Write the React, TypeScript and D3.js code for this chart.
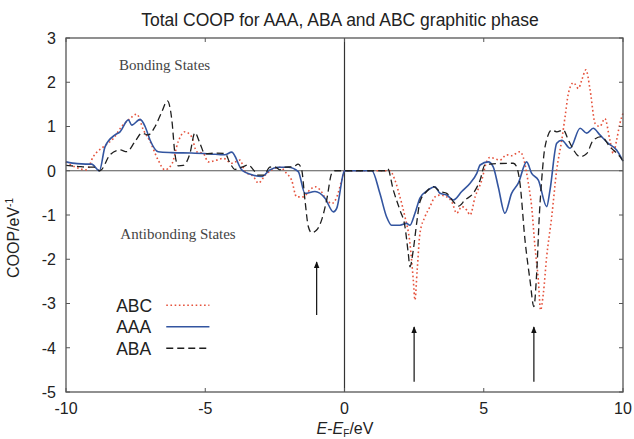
import React from 'react';
import * as d3 from 'd3';

// ABC (red dotted), AAA (blue solid), ABA (black dashed) -- [E - EF, COOP]
const abcData: [number, number][] = [
  [-10, 0.2], [-9.62, 0.07], [-9.26, 0.02], [-9.02, 0.32], [-8.66, 0.54], [-8.3, 0.73], [-8.0, 1.0],
  [-7.7, 1.18], [-7.46, 1.28], [-7.22, 0.92], [-6.98, 0.66], [-6.69, 0.24], [-6.45, 0.02], [-6.2, 0.15],
  [-5.97, 0.66], [-5.73, 0.88], [-5.49, 0.77], [-5.31, 0.43], [-5.07, 0.39], [-4.89, 0.2], [-4.59, 0.24],
  [-4.35, 0.28], [-4.05, 0.17], [-3.75, 0.24], [-3.57, -0.02], [-3.27, -0.13], [-3.09, -0.28], [-2.85, -0.1],
  [-2.61, 0.02], [-2.32, 0.08], [-2.08, -0.06], [-1.9, -0.21], [-1.72, -0.59], [-1.48, -0.59], [-1.24, -0.43],
  [-1.06, -0.36], [-0.88, -0.43], [-0.64, -0.66], [-0.46, -0.74], [-0.28, -0.6], [-0.1, -0.21], [0, 0],
  [1.63, 0], [1.81, -0.21], [1.99, -0.59], [2.17, -1.04], [2.35, -1.64], [2.47, -2.47], [2.53, -2.92],
  [2.61, -2.24], [2.71, -1.41], [2.89, -1.04], [3.07, -0.81], [3.25, -0.59], [3.43, -0.55], [3.67, -0.59],
  [3.85, -0.7], [4.03, -0.96], [4.21, -0.81], [4.39, -0.89], [4.51, -1.0], [4.69, -0.59], [4.93, -0.21],
  [5.1, 0.2], [5.22, 0.3], [5.58, 0.24], [5.82, 0.36], [5.98, 0.34], [6.3, 0.43], [6.42, 0.3], [6.6, -0.28],
  [6.72, -0.81], [6.84, -1.72], [6.96, -2.47], [7.04, -3.15], [7.14, -2.77], [7.26, -1.94], [7.44, -1.04],
  [7.62, 0.02], [7.8, 0.69], [7.92, 1.22], [8.04, 1.75], [8.22, 1.99], [8.4, 1.86], [8.52, 2.05], [8.67, 2.28],
  [8.82, 1.82], [9.0, 1.07], [9.17, 1.0], [9.35, 1.18], [9.53, 0.69], [9.65, 0.39], [9.77, 0.69], [9.89, 1.07],
  [10, 1.3],
];

const aaaData: [number, number][] = [
  [-10, 0.2], [-9.6, 0.16], [-9.3, 0.15], [-9.08, 0.15], [-8.8, 0.0], [-8.6, 0.54], [-8.24, 0.81], [-8.06, 0.88],
  [-7.76, 1.15], [-7.64, 1.03], [-7.34, 1.16], [-7.16, 1.0], [-6.98, 0.69], [-6.69, 0.43], [-6.2, 0.41],
  [-5.5, 0.4], [-4.83, 0.38], [-4.3, 0.36], [-4.05, 0.42], [-3.69, 0.02], [-3.27, -0.1], [-2.97, -0.13],
  [-2.68, 0.02], [-2.39, 0.08], [-2.02, 0.08], [-1.66, -0.02], [-1.42, -0.51], [-1.06, -0.47], [-0.7, -0.62],
  [-0.4, -0.93], [-0.28, -0.85], [-0.04, -0.06], [0, 0], [0.98, 0], [1.27, -0.51], [1.51, -1.04], [1.69, -1.23],
  [1.99, -1.23], [2.23, -1.19], [2.35, -1.23], [2.53, -0.96], [2.71, -0.62], [3.01, -0.43], [3.25, -0.36],
  [3.43, -0.51], [3.67, -0.55], [3.91, -0.66], [4.21, -0.47], [4.51, -0.28], [4.75, -0.06], [4.87, 0.13],
  [5.16, 0.2], [5.34, 0.09], [5.52, -0.36], [5.76, -0.96], [6.0, -0.51], [6.24, -0.28], [6.54, 0.2],
  [6.72, -0.06], [6.96, -0.21], [7.26, -0.81], [7.38, -0.43], [7.62, 0.62], [7.8, 0.69], [8.1, 0.51],
  [8.46, 0.96], [8.7, 0.85], [8.93, 0.96], [9.17, 0.81], [9.47, 0.62], [9.77, 0.47], [9.95, 0.28], [10, 0.22],
];

const abaData: [number, number][] = [
  [-10, 0.12], [-9.6, 0.1], [-9.2, 0.08], [-9.0, 0.08], [-8.78, 0], [-8.42, 0.36], [-8.06, 0.47], [-7.82, 0.43],
  [-7.52, 0.66], [-7.28, 0.85], [-7.05, 0.81], [-6.8, 1.0], [-6.56, 1.33], [-6.36, 1.58], [-6.2, 1.15],
  [-6.09, 0.39], [-5.97, 0.11], [-5.79, 0.12], [-5.55, 0.39], [-5.37, 0.86], [-5.19, 0.62], [-5.01, 0.38],
  [-4.6, 0.4], [-4.29, 0.39], [-4.11, 0.17], [-3.93, 0.03], [-3.69, 0.08], [-3.45, 0.13], [-3.27, 0.02],
  [-3.09, -0.1], [-2.9, -0.1], [-2.68, 0.08], [-2.5, 0.09], [-2.32, 0.02], [-2.14, 0.08], [-1.84, 0.09],
  [-1.66, 0.15], [-1.54, 0.03], [-1.42, -0.66], [-1.3, -1.26], [-1.18, -1.4], [-1.0, -1.34], [-0.82, -1.11],
  [-0.64, -0.66], [-0.46, -0.06], [-0.34, 0], [0, 0], [1.45, 0], [1.55, 0.05], [1.75, -0.43], [1.99, -0.89],
  [2.17, -1.26], [2.29, -1.87], [2.35, -2.17], [2.47, -1.79], [2.59, -1.19], [2.71, -0.7], [2.95, -0.47],
  [3.19, -0.36], [3.43, -0.47], [3.67, -0.51], [3.91, -0.7], [4.09, -0.8], [4.33, -0.66], [4.62, -0.51],
  [4.87, -0.21], [5.04, 0.13], [5.22, 0.15], [6.06, 0.17], [6.18, 0.09], [6.3, -0.28], [6.48, -1.56],
  [6.66, -2.47], [6.8, -3.07], [6.9, -2.32], [7.0, -0.96], [7.08, -0.21], [7.2, 0.54], [7.44, 0.92],
  [7.62, 0.88], [7.86, 0.92], [8.04, 0.69], [8.46, 0.32], [8.7, 0.39], [8.93, 0.69], [9.23, 0.77],
  [9.53, 0.54], [9.89, 0.32], [10, 0.22],
];

const xTicks = [-10, -5, 0, 5, 10];
const yTicks = [3, 2, 1, 0, -1, -2, -3, -4, -5];

// arrows: [x, yFrom, yTo]
const arrows: [number, number, number][] = [
  [-1.0, -3.26, -2.06],
  [2.5, -4.77, -3.53],
  [6.8, -4.77, -3.53],
];

const legendNames = ['ABC', 'AAA', 'ABA'];

const width = 634;
const height = 439;
const margin = { top: 38, right: 11, bottom: 47, left: 66 };
const innerWidth = width - margin.left - margin.right;
const innerHeight = height - margin.top - margin.bottom;

const sans = '"Liberation Sans", Arial, sans-serif';
const serif = '"Liberation Serif", "Times New Roman", serif';

export default function App() {
  const x = d3.scaleLinear().domain([-10, 10]).range([0, innerWidth]);
  const y = d3.scaleLinear().domain([-5, 3]).range([innerHeight, 0]);

  const line = d3.line<[number, number]>()
    .x(d => x(d[0]))
    .y(d => y(d[1]))
    .curve(d3.curveMonotoneX);

  const series = [
    { name: 'ABC', data: abcData, color: '#e5533d', width: 1.6, dash: '1.6,2.6' },
    { name: 'AAA', data: aaaData, color: '#3355a0', width: 1.6, dash: '' },
    { name: 'ABA', data: abaData, color: '#1e1e1e', width: 1.3, dash: '7,4' },
  ];

  const tickLen = 4;

  return (
    <div style={{ position: 'absolute', left: 0, top: 0 }}>
      <svg width={width} height={height} style={{ display: 'block', background: '#fff' }}>
        <defs>
          <marker id="arrowHead" viewBox="0 0 10 10" refX="9" refY="5" markerWidth="6" markerHeight="7" orient="auto">
            <path d="M0,1 L10,5 L0,9 z" fill="#111" />
          </marker>
        </defs>

        <text x={340} y={26} textAnchor="middle" fontFamily={sans} fontSize={17.5} fill="#222">
          Total COOP for AAA, ABA and ABC graphitic phase
        </text>

        <g transform={`translate(${margin.left},${margin.top})`}>
          {/* zero lines */}
          <line x1={0} x2={innerWidth} y1={y(0)} y2={y(0)} stroke="#555" strokeWidth={1.2} />
          <line x1={x(0)} x2={x(0)} y1={0} y2={innerHeight} stroke="#333" strokeWidth={1.2} />

          {/* curves */}
          {series.map(s => (
            <path key={s.name} d={line(s.data) || ''} fill="none" stroke={s.color}
              strokeWidth={s.width} strokeDasharray={s.dash || undefined} strokeLinejoin="round" />
          ))}

          {/* frame */}
          <rect x={0} y={0} width={innerWidth} height={innerHeight} fill="none" stroke="#555" strokeWidth={1.3} />

          {/* ticks */}
          {xTicks.map(t => (
            <g key={'xt' + t}>
              <line x1={x(t)} x2={x(t)} y1={innerHeight} y2={innerHeight - tickLen} stroke="#555" />
              <line x1={x(t)} x2={x(t)} y1={0} y2={tickLen} stroke="#555" />
              <text x={x(t)} y={innerHeight + 22} textAnchor="middle" fontFamily={sans} fontSize={16} fill="#222">
                {t}
              </text>
            </g>
          ))}
          {yTicks.map(t => (
            <g key={'yt' + t}>
              <line x1={0} x2={tickLen} y1={y(t)} y2={y(t)} stroke="#555" />
              <line x1={innerWidth} x2={innerWidth - tickLen} y1={y(t)} y2={y(t)} stroke="#555" />
              <text x={-10} y={y(t)} dy="0.36em" textAnchor="end" fontFamily={sans} fontSize={16} fill="#222">
                {t}
              </text>
            </g>
          ))}

          {/* arrows */}
          {arrows.map((a, i) => (
            <line key={'ar' + i} x1={x(a[0])} x2={x(a[0])} y1={y(a[1])} y2={y(a[2])}
              stroke="#111" strokeWidth={1.2} markerEnd="url(#arrowHead)" />
          ))}

          {/* annotations */}
          <text x={x(-8.1)} y={y(2.28)} fontFamily={serif} fontSize={15} fill="#444">Bonding States</text>
          <text x={x(-8.05)} y={y(-1.55)} fontFamily={serif} fontSize={15} fill="#444">Antibonding States</text>

          {/* legend */}
          {legendNames.map((n, i) => {
            const s = series.find(d => d.name === n)!;
            const ly = y(-3.04) + i * 21.5;
            return (
              <g key={'lg' + n}>
                <text x={x(-8.2)} y={ly} dy="0.36em" fontFamily={sans} fontSize={17.5} fill="#222">{n}</text>
                <line x1={x(-6.4)} x2={x(-4.85)} y1={ly} y2={ly} stroke={s.color} strokeWidth={s.width}
                  strokeDasharray={s.dash || undefined} />
              </g>
            );
          })}
        </g>

        {/* axis titles */}
        <text transform={`translate(19,238) rotate(-90)`} textAnchor="middle" fontFamily={sans} fontSize={16} fill="#222">
          COOP/eV<tspan dy="-6" fontSize={10}>-1</tspan>
        </text>
        <text x={345} y={434} textAnchor="middle" fontFamily={sans} fontSize={16} fill="#222">
          <tspan fontStyle="italic">E</tspan>-<tspan fontStyle="italic">E</tspan><tspan fontSize={10} dy="3">F</tspan><tspan dy="-3">/eV</tspan>
        </text>
      </svg>
    </div>
  );
}
